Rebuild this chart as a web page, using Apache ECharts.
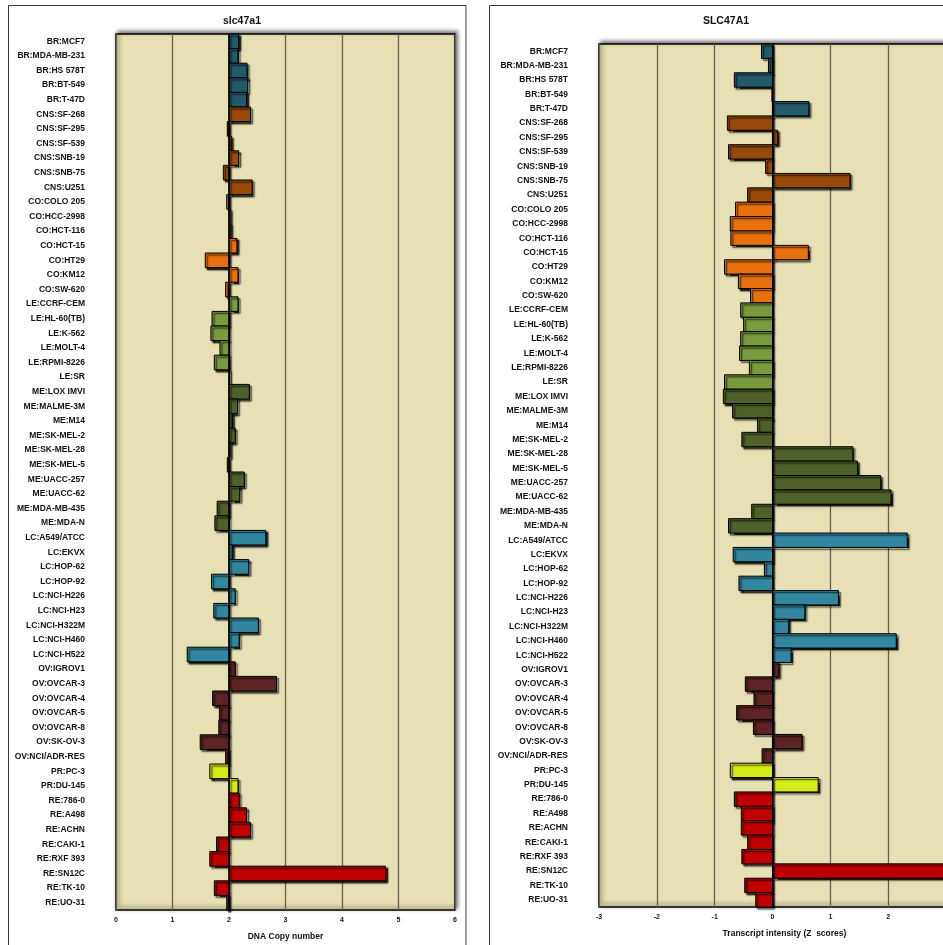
<!DOCTYPE html>
<html>
<head>
<meta charset="utf-8">
<title>SLC47A1 – NCI-60</title>
<script src="https://cdn.jsdelivr.net/npm/echarts@6/dist/echarts.min.js"></script>
<style>
  html, body { margin: 0; padding: 0; background: #ffffff; }
  #chart { width: 943px; height: 945px; }
</style>
</head>
<body>
<div id="chart"></div>
<script>
// NCI-60 cell lines, top to bottom
const cellLines = [
  'BR:MCF7', 'BR:MDA-MB-231', 'BR:HS 578T', 'BR:BT-549', 'BR:T-47D',
  'CNS:SF-268', 'CNS:SF-295', 'CNS:SF-539', 'CNS:SNB-19', 'CNS:SNB-75', 'CNS:U251',
  'CO:COLO 205', 'CO:HCC-2998', 'CO:HCT-116', 'CO:HCT-15', 'CO:HT29', 'CO:KM12', 'CO:SW-620',
  'LE:CCRF-CEM', 'LE:HL-60(TB)', 'LE:K-562', 'LE:MOLT-4', 'LE:RPMI-8226', 'LE:SR',
  'ME:LOX IMVI', 'ME:MALME-3M', 'ME:M14', 'ME:SK-MEL-2', 'ME:SK-MEL-28', 'ME:SK-MEL-5',
  'ME:UACC-257', 'ME:UACC-62', 'ME:MDA-MB-435', 'ME:MDA-N',
  'LC:A549/ATCC', 'LC:EKVX', 'LC:HOP-62', 'LC:HOP-92', 'LC:NCI-H226', 'LC:NCI-H23',
  'LC:NCI-H322M', 'LC:NCI-H460', 'LC:NCI-H522',
  'OV:IGROV1', 'OV:OVCAR-3', 'OV:OVCAR-4', 'OV:OVCAR-5', 'OV:OVCAR-8', 'OV:SK-OV-3', 'OV:NCI/ADR-RES',
  'PR:PC-3', 'PR:DU-145',
  'RE:786-0', 'RE:A498', 'RE:ACHN', 'RE:CAKI-1', 'RE:RXF 393', 'RE:SN12C', 'RE:TK-10', 'RE:UO-31'
];

// DNA copy number (bars drawn from the diploid level 2)
const copyNumber = [
  2.17, 2.16, 2.32, 2.33, 2.31,
  2.38, 1.97, 2.04, 2.17, 1.90, 2.41,
  1.96, 2.02, 2.03, 2.14, 1.58, 2.16, 1.94,
  2.16, 1.70, 1.68, 1.84, 1.74, 2.01,
  2.36, 2.15, 2.06, 2.11, 2.02, 1.97,
  2.27, 2.19, 1.79, 1.75,
  2.65, 2.06, 2.35, 1.69, 2.11, 1.73,
  2.52, 2.18, 1.26,
  2.11, 2.84, 1.71, 1.83, 1.82, 1.49, 1.94,
  1.66, 2.16,
  2.18, 2.31, 2.38, 1.78, 1.66, 4.77, 1.74, 1.96
];

// Transcript intensity, z scores (bars drawn from 0)
const zScores = [
  -0.19, -0.07, -0.66, -0.01, 0.63,
  -0.78, 0.09, -0.76, -0.12, 1.34, -0.43,
  -0.64, -0.73, -0.72, 0.62, -0.83, -0.59, -0.38,
  -0.55, -0.50, -0.55, -0.57, -0.40, -0.83,
  -0.85, -0.69, -0.26, -0.53, 1.39, 1.47,
  1.87, 2.05, -0.36, -0.76,
  2.33, -0.68, -0.14, -0.58, 1.14, 0.56,
  0.28, 2.14, 0.32,
  0.11, -0.47, -0.32, -0.62, -0.33, 0.51, -0.18,
  -0.73, 0.79,
  -0.66, -0.54, -0.54, -0.43, -0.53, 3.2, -0.48, -0.29
];

// Axis ticks
const copyTicks = [0, 1, 2, 3, 4, 5, 6];
const zTicks = [-3, -2, -1, 0, 1, 2, 3];

// Tissue-of-origin palette
const tissueColors = {
  BR: '#235A6A',
  CNS: '#984A0B',
  CO: '#E8700E',
  LE: '#799A3D',
  ME: '#4F6129',
  LC: '#3187A0',
  OV: '#5E2425',
  PR: '#D4EC16',
  RE: '#C00000'
};

const FONT = '"Liberation Sans", Arial, sans-serif';

function tissueOf(name) { return name.split(':')[0]; }

// Floating bar: rectangle from a baseline to the value, positioned through the axes
function floatingBar(base) {
  return function (params, api) {
    const val = api.value(0);
    const idx = api.value(1);
    const p0 = api.coord([base, idx]);
    const p1 = api.coord([val, idx]);
    const band = api.size([0, 1])[1];
    const h = band;
    const x = Math.min(p0[0], p1[0]);
    const w = Math.abs(p1[0] - p0[0]);
    const rect = echarts.graphic.clipRectByRect(
      { x: x, y: p0[1] - h / 2, width: w, height: h },
      { x: params.coordSys.x, y: params.coordSys.y, width: params.coordSys.width, height: params.coordSys.height }
    );
    if (!rect) return null;
    return {
      type: 'rect',
      shape: rect,
      style: {
        fill: tissueColors[tissueOf(cellLines[idx])],
        stroke: '#000',
        lineWidth: 1,
        shadowColor: 'rgba(0,0,0,0.85)',
        shadowBlur: 1.5,
        shadowOffsetX: 2,
        shadowOffsetY: 2
      }
    };
  };
}

const gridStyle = {
  show: true,
  outerBoundsMode: 'none',
  containLabel: false,
  backgroundColor: '#E7E0B4',
  borderColor: '#000',
  borderWidth: 1.5,
  shadowColor: 'rgba(0,0,0,0.55)',
  shadowBlur: 4,
  shadowOffsetX: 2,
  shadowOffsetY: -2
};

function valueAxis(gridIndex, ticks, name, nameShift) {
  return {
    type: 'value',
    gridIndex: gridIndex,
    min: ticks[0],
    max: ticks[ticks.length - 1],
    interval: 1,
    name: name,
    nameLocation: 'middle',
    nameGap: 22,
    nameTextStyle: {
      fontFamily: FONT, fontWeight: 'bold', fontSize: 8.5, color: '#111',
      padding: [0, 0, 0, nameShift * 2]
    },
    axisLine: { show: false },
    axisTick: { show: false },
    axisLabel: { margin: 7, fontFamily: FONT, fontWeight: 'bold', fontSize: 7, color: '#111' },
    splitLine: { show: true, lineStyle: { color: '#67634A', width: 1.3 } }
  };
}

function categoryAxis(gridIndex) {
  return {
    type: 'category',
    gridIndex: gridIndex,
    data: cellLines,
    inverse: true,
    axisLine: { show: false },
    axisTick: { show: false },
    splitLine: { show: false },
    axisLabel: {
      interval: 0,
      margin: 31,
      fontFamily: FONT,
      fontWeight: 'bold',
      fontSize: 8.5,
      color: '#111'
    }
  };
}

function baseLine(x) {
  return {
    silent: true,
    symbol: 'none',
    label: { show: false },
    lineStyle: { color: '#000', width: 1.5, type: 'solid' },
    data: [{ xAxis: x }]
  };
}

const chart = echarts.init(document.getElementById('chart'), null, { renderer: 'canvas' });

chart.setOption({
  animation: false,
  backgroundColor: '#ffffff',
  title: [
    {
      text: 'slc47a1', left: 237, top: 11, textAlign: 'center',
      textStyle: { fontFamily: FONT, fontWeight: 'bold', fontSize: 10.5, color: '#111' }
    },
    {
      text: 'SLC47A1', left: 721, top: 11, textAlign: 'center',
      textStyle: { fontFamily: FONT, fontWeight: 'bold', fontSize: 10.5, color: '#111' }
    }
  ],
  graphic: [
    {
      type: 'rect', z: -10, silent: true,
      shape: { x: 8.5, y: 5.5, width: 457.5, height: 960 },
      style: { fill: 'none', stroke: '#3a3a3a', lineWidth: 1 }
    },
    {
      type: 'rect', z: -10, silent: true,
      shape: { x: 489.5, y: 5.5, width: 520, height: 960 },
      style: { fill: 'none', stroke: '#3a3a3a', lineWidth: 1 }
    }
  ],
  grid: [
    Object.assign({ left: 116, top: 34, width: 339, height: 876 }, gridStyle),
    Object.assign({ left: 599, top: 44, width: 347, height: 863 }, gridStyle)
  ],
  xAxis: [
    valueAxis(0, copyTicks, 'DNA Copy number', 0),
    valueAxis(1, zTicks, 'Transcript intensity (Z  scores)', 12)
  ],
  yAxis: [categoryAxis(0), categoryAxis(1)],
  series: [
    {
      name: 'DNA copy number',
      type: 'custom',
      xAxisIndex: 0,
      yAxisIndex: 0,
      renderItem: floatingBar(2),
      encode: { x: 0, y: 1 },
      data: copyNumber.map((v, i) => [v, i]),
      markLine: baseLine(2),
      z: 3
    },
    {
      name: 'Transcript intensity',
      type: 'custom',
      xAxisIndex: 1,
      yAxisIndex: 1,
      renderItem: floatingBar(0),
      encode: { x: 0, y: 1 },
      data: zScores.map((v, i) => [v, i]),
      markLine: baseLine(0),
      z: 3
    }
  ]
});
</script>
</body>
</html>
